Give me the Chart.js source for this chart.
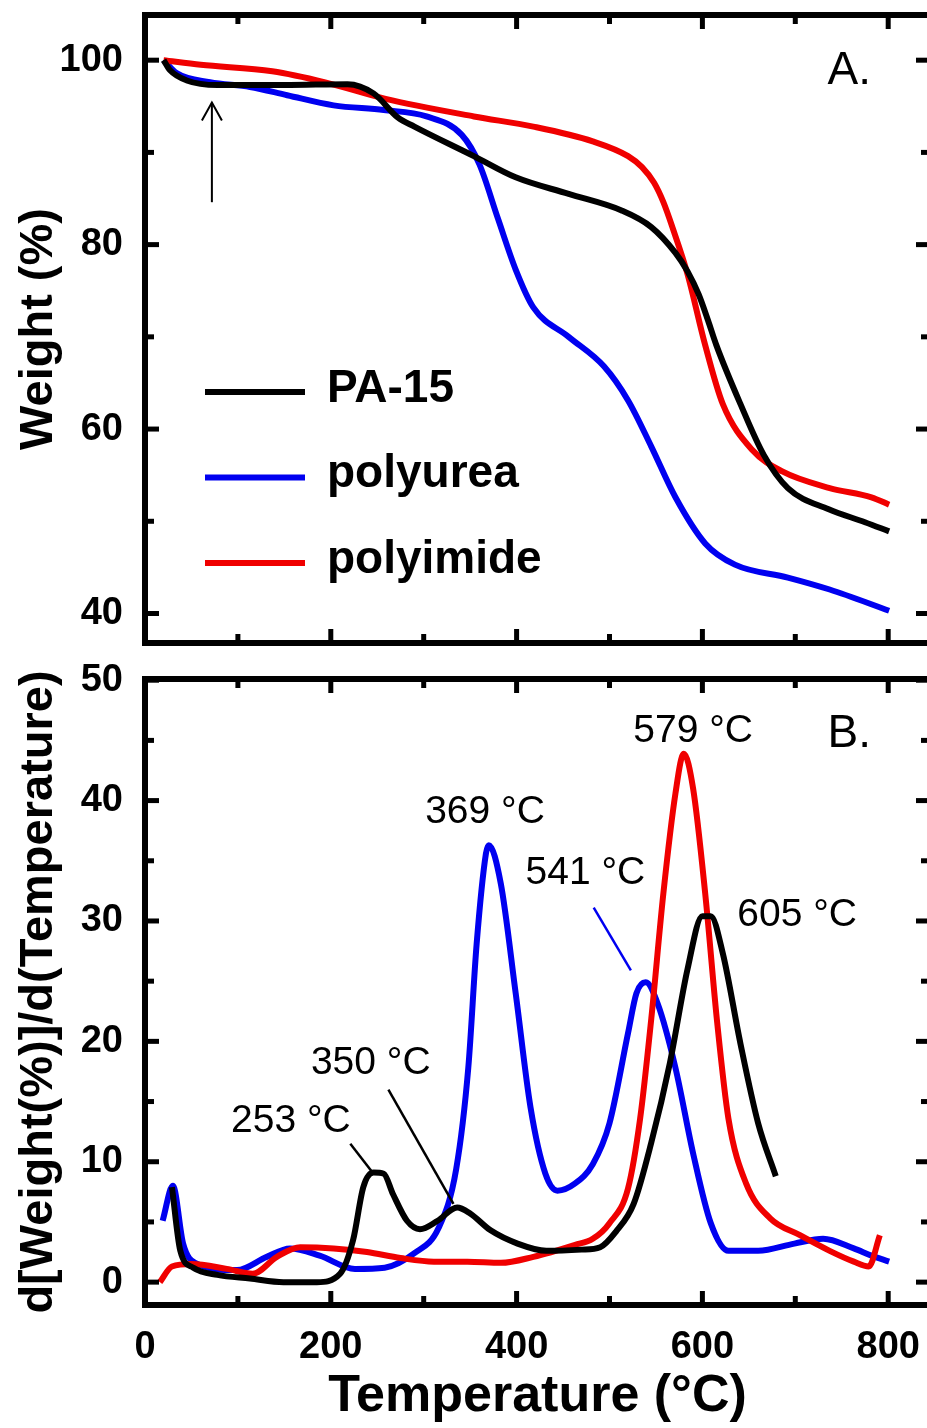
<!DOCTYPE html>
<html>
<head>
<meta charset="utf-8">
<script src="https://cdn.jsdelivr.net/npm/chart.js@4.4.0/dist/chart.umd.min.js"></script>
<style>
  html, body { margin: 0; padding: 0; background: #fff; overflow: hidden; width: 927px; height: 1428px; }
  canvas { position: absolute; left: 0; }
</style>
</head>
<body>
<canvas id="chartA" width="940" height="660" style="top:0"></canvas>
<canvas id="chartB" width="940" height="768" style="top:660px"></canvas>
<script>
/* eslint-disable no-undef */
// ticks
const xTicks = [0, 200, 400, 600, 800]
const weightTicks = [40, 60, 80, 100]
const derivTicks = [0, 10, 20, 30, 40, 50]

// series
const seriesNames = ['PA-15', 'polyurea', 'polyimide']
const seriesColors = ['#000000', '#0000f0', '#f00000']

// panel A: weight (%) vs temperature
const paTempA = [20, 27, 45, 78, 150, 218, 246, 272, 290, 354, 399, 456, 513, 545, 571, 584, 596, 606, 615, 641, 666, 692, 736, 775, 801]
const paWeightA = [100, 98.9, 97.8, 97.3, 97.3, 97.4, 96.4, 93.8, 92.8, 89.6, 87.3, 85.5, 83.7, 81.9, 79.1, 77.1, 74.6, 71.8, 69.1, 62.7, 57.2, 53.6, 51.3, 49.9, 48.9]
const ureaTempA = [20, 34, 70, 113, 153, 203, 257, 303, 341, 360, 380, 399, 418, 456, 494, 520, 545, 571, 603, 635, 692, 737, 801]
const ureaWeightA = [100, 98.6, 97.6, 97.1, 96.2, 95.1, 94.6, 93.9, 91.9, 88.7, 82.8, 77.3, 73.2, 70.0, 66.8, 63.1, 58.1, 52.6, 47.6, 45.3, 43.9, 42.6, 40.3]
const imideTempA = [20, 60, 137, 194, 259, 354, 418, 482, 520, 535, 548, 558, 568, 584, 603, 622, 654, 686, 737, 782, 801]
const imideWeightA = [100, 99.5, 98.8, 97.6, 95.8, 93.9, 92.8, 91.2, 89.6, 88.4, 86.7, 84.6, 81.8, 76.8, 69.1, 62.7, 57.7, 55.4, 53.6, 52.6, 51.8]

// panel B: derivative vs temperature
const paTempB = [29, 38, 52, 78, 113, 149, 185, 210, 224, 235, 246, 257, 267, 282, 296, 315, 336, 350, 372, 401, 432, 470, 490, 507, 526, 545, 565, 584, 600, 609, 622, 641, 660, 679]
const paDeriv = [7.9, 2.6, 1.2, 0.6, 0.3, 0.0, 0.0, 0.7, 3.5, 7.9, 9.1, 9.0, 7.3, 5.1, 4.4, 5.1, 6.2, 5.7, 4.3, 3.2, 2.6, 2.7, 2.9, 4.2, 6.5, 11.6, 18.2, 26.0, 30.4, 30.4, 27.3, 19.8, 13.2, 8.8]
const ureaTempB = [19, 30, 41, 54, 99, 131, 156, 188, 226, 258, 290, 316, 335, 348, 357, 367, 370, 383, 399, 415, 431, 444, 463, 482, 500, 520, 529, 539, 552, 571, 590, 609, 628, 660, 699, 730, 763, 782, 801]
const ureaDeriv = [5.1, 8.0, 3.2, 1.6, 1.0, 2.1, 2.8, 2.2, 1.1, 1.2, 2.4, 4.5, 9.4, 17.8, 28.1, 35.6, 36.3, 33.1, 24.0, 14.5, 9.0, 7.6, 8.2, 9.8, 13.2, 20.7, 24.0, 24.9, 23.1, 17.8, 10.7, 4.9, 2.6, 2.6, 3.2, 3.6, 2.8, 2.2, 1.7]
const imideTempB = [16, 29, 50, 88, 116, 142, 167, 203, 239, 275, 311, 347, 383, 418, 463, 482, 500, 520, 533, 545, 558, 571, 580, 590, 603, 616, 628, 647, 673, 705, 737, 763, 779, 791]
const imideDeriv = [0, 1.3, 1.5, 1.1, 0.7, 2.1, 2.9, 2.8, 2.5, 2.0, 1.7, 1.7, 1.6, 2.1, 3.1, 3.6, 4.9, 7.8, 13.6, 21.9, 32.3, 40.6, 43.9, 41.0, 32.3, 21.5, 13.6, 8.2, 5.3, 3.9, 2.6, 1.7, 1.3, 3.9]

// peak labels (panel B)
const peakLabels = ['253 °C', '350 °C', '369 °C', '541 °C', '579 °C', '605 °C']
const peakLabelAt = [[157, 13.4], [243, 18.2], [366, 39.0], [474, 34.0], [590, 45.8], [702, 30.5]]
const leaders = [
  { from: [221, 11.5], to: [246, 9.0], color: '#000' },
  { from: [262, 16.0], to: [332, 6.5], color: '#000' },
  { from: [483, 31.1], to: [523, 25.9], color: '#0000f0' }
]

const FONT = '"Liberation Sans", Arial, sans-serif'

const toPoints = (xs, ys) => xs.map((x, i) => ({ x, y: ys[i] }))

function makeDatasets (pairs) {
  // PA-15 on top, then polyimide, then polyurea
  const order = [0, 2, 1]
  return pairs.map((p, i) => ({
    label: seriesNames[i],
    data: toPoints(p[0], p[1]),
    borderColor: seriesColors[i],
    borderWidth: 6,
    pointRadius: 0,
    fill: false,
    cubicInterpolationMode: 'monotone',
    order: order[i]
  }))
}

function seg (ctx, x0, y0, x1, y1) {
  ctx.beginPath()
  ctx.moveTo(x0, y0)
  ctx.lineTo(x1, y1)
  ctx.stroke()
}

// frame with inward major/minor ticks on all four sides
function drawFrame (chart, yMinorStep, yMajorStep, yLo, yHi) {
  const { ctx, chartArea: a, scales } = chart
  ctx.save()
  ctx.strokeStyle = '#000'
  ctx.lineWidth = 6
  ctx.strokeRect(a.left, a.top, a.right - a.left, a.bottom - a.top)
  ctx.lineWidth = 5
  for (let v = 0; v <= 800; v += 100) {
    const px = scales.x.getPixelForValue(v)
    const len = v % 200 === 0 ? 14 : 9
    seg(ctx, px, a.bottom, px, a.bottom - len)
    seg(ctx, px, a.top, px, a.top + len)
  }
  for (let v = yLo; v <= yHi + 0.001; v += yMinorStep) {
    const py = scales.y.getPixelForValue(v)
    const len = Math.abs(v % yMajorStep) < 0.001 ? 14 : 9
    seg(ctx, a.left, py, a.left + len, py)
    seg(ctx, a.right, py, a.right - len, py)
  }
  ctx.restore()
}

const noise = { legend: { display: false }, tooltip: { enabled: false } }

const frameA = {
  id: 'frameA',
  afterDatasetsDraw (chart) {
    const { ctx, chartArea: a, scales } = chart
    drawFrame(chart, 10, 20, 40, 100)
    ctx.save()
    // legend
    chart.data.datasets.forEach((ds, i) => {
      const y = a.top + 377 + i * 85.5
      ctx.strokeStyle = ds.borderColor
      ctx.lineWidth = 6
      seg(ctx, a.left + 60, y, a.left + 160, y)
      ctx.fillStyle = '#000'
      ctx.font = 'bold 46px ' + FONT
      ctx.textAlign = 'left'
      ctx.textBaseline = 'middle'
      ctx.fillText(ds.label, a.left + 182, y - 3)
    })
    // panel letter
    ctx.font = '46px ' + FONT
    ctx.textAlign = 'center'
    ctx.fillText('A.', scales.x.getPixelForValue(758), scales.y.getPixelForValue(98.8))
    // arrow
    const ax = scales.x.getPixelForValue(72)
    const tip = scales.y.getPixelForValue(95.4)
    const base = scales.y.getPixelForValue(84.6)
    ctx.strokeStyle = '#000'
    ctx.lineWidth = 2
    seg(ctx, ax, base, ax, tip)
    ctx.beginPath()
    ctx.moveTo(ax - 10, tip + 18)
    ctx.lineTo(ax, tip)
    ctx.lineTo(ax + 10, tip + 18)
    ctx.stroke()
    ctx.restore()
  }
}

const frameB = {
  id: 'frameB',
  afterDatasetsDraw (chart) {
    const { ctx, scales } = chart
    drawFrame(chart, 5, 10, 0, 50)
    ctx.save()
    ctx.fillStyle = '#000'
    ctx.textAlign = 'center'
    ctx.textBaseline = 'middle'
    ctx.font = '46px ' + FONT
    ctx.fillText('B.', scales.x.getPixelForValue(758), scales.y.getPixelForValue(45.5))
    ctx.font = '39px ' + FONT
    peakLabels.forEach((t, i) => {
      ctx.fillText(t, scales.x.getPixelForValue(peakLabelAt[i][0]), scales.y.getPixelForValue(peakLabelAt[i][1]))
    })
    ctx.lineWidth = 2.5
    leaders.forEach(l => {
      ctx.strokeStyle = l.color
      seg(ctx, scales.x.getPixelForValue(l.from[0]), scales.y.getPixelForValue(l.from[1]),
        scales.x.getPixelForValue(l.to[0]), scales.y.getPixelForValue(l.to[1]))
    })
    ctx.restore()
  }
}

const tickFont = { family: FONT, size: 38, weight: 'bold' }
const titleFont = { family: FONT, size: 47, weight: 'bold' }

// fixed axis widths, no extra padding for end labels
function fixY (s) {
  s.width = 145
  s.paddingTop = 0
  s.paddingBottom = 0
}

new Chart(document.getElementById('chartA').getContext('2d'), {
  type: 'line',
  data: {
    datasets: makeDatasets([[paTempA, paWeightA], [ureaTempA, ureaWeightA], [imideTempA, imideWeightA]])
  },
  options: {
    responsive: false,
    animation: false,
    layout: { padding: { top: 15, right: 10, left: 0, bottom: 0 } },
    plugins: noise,
    scales: {
      x: {
        type: 'linear',
        min: 0,
        max: 845,
        grid: { display: false },
        border: { display: false },
        ticks: { display: false },
        afterFit (s) { s.height = 17; s.paddingLeft = 0; s.paddingRight = 0 }
      },
      y: {
        type: 'linear',
        min: 36.8,
        max: 104.9,
        grid: { display: false },
        border: { display: false },
        afterBuildTicks (s) { s.ticks = weightTicks.map(v => ({ value: v })) },
        ticks: { color: '#000', padding: 14, font: tickFont },
        title: { display: true, text: 'Weight (%)', color: '#000', font: titleFont, padding: { top: 11, bottom: 0 } },
        afterFit: fixY
      }
    }
  },
  plugins: [frameA]
})

new Chart(document.getElementById('chartB').getContext('2d'), {
  type: 'line',
  data: {
    datasets: makeDatasets([[paTempB, paDeriv], [ureaTempB, ureaDeriv], [imideTempB, imideDeriv]])
  },
  options: {
    responsive: false,
    animation: false,
    layout: { padding: { top: 19, right: 10, left: 0, bottom: 0 } },
    plugins: noise,
    scales: {
      x: {
        type: 'linear',
        min: 0,
        max: 845,
        grid: { display: false },
        border: { display: false },
        afterBuildTicks (s) { s.ticks = xTicks.map(v => ({ value: v })) },
        ticks: { color: '#000', padding: 12, maxRotation: 0, font: tickFont },
        title: { display: true, text: 'Temperature (°C)', color: '#000', font: { family: FONT, size: 52, weight: 'bold' }, padding: { top: 0, bottom: 0 } },
        afterFit (s) { s.height = 123; s.paddingLeft = 0; s.paddingRight = 0 }
      },
      y: {
        type: 'linear',
        min: -1.9,
        max: 50.1,
        grid: { display: false },
        border: { display: false },
        afterBuildTicks (s) { s.ticks = derivTicks.map(v => ({ value: v })) },
        ticks: { color: '#000', padding: 14, font: tickFont },
        title: { display: true, text: 'd[Weight(%)]/d(Temperature)', color: '#000', font: titleFont, padding: { top: 11, bottom: 0 } },
        afterFit: fixY
      }
    }
  },
  plugins: [frameB]
})
</script>
</body>
</html>
